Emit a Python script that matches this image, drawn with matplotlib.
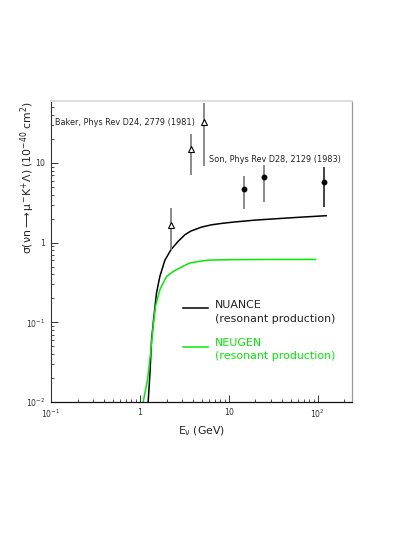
import numpy as np
import matplotlib
matplotlib.use('Agg')
import matplotlib.pyplot as plt
from matplotlib.ticker import FixedLocator, LogLocator, NullFormatter, FuncFormatter

plt.rcParams['font.family'] = ['DejaVu Sans']
plt.rcParams['mathtext.fontset'] = 'custom'
plt.rcParams['mathtext.rm'] = 'DejaVu Sans'
plt.rcParams['mathtext.it'] = 'DejaVu Sans'
plt.rcParams['mathtext.bf'] = 'DejaVu Sans:bold'

# ---- data ----
# NUANCE (resonant production)
nuance_E = [1.24, 1.30, 1.355, 1.44, 1.54, 1.68, 1.91, 2.24, 2.70, 3.22, 3.76, 4.96, 6.5,
            8.5, 11.7, 20, 40, 70, 125]
nuance_xs = [0.010, 0.0232, 0.0607, 0.119, 0.234, 0.378, 0.60, 0.817, 1.04, 1.26, 1.40, 1.57, 1.68,
             1.75, 1.82, 1.92, 2.02, 2.10, 2.18]

# NEUGEN (resonant production)
neugen_E = [1.09, 1.22, 1.32, 1.41, 1.50, 1.68, 2.0, 2.38, 3.16, 3.66, 4.96, 6.15, 11.7,
            30, 60, 95]
neugen_xs = [0.010, 0.0191, 0.0413, 0.089, 0.159, 0.257, 0.378, 0.436, 0.515, 0.556, 0.59, 0.605,
             0.612, 0.615, 0.615, 0.615]

# Baker, Phys Rev D24, 2779 (1981)
baker_E = [2.24, 3.76, 5.27]
baker_xs = [1.68, 15.0, 33.0]
baker_lo = [0.82, 7.1, 9.1]
baker_hi = [2.72, 23.1, 56.0]

# Son, Phys Rev D28, 2129 (1983)
son_E = [14.8, 24.8, 118.0]
son_xs = [4.76, 6.6, 5.83]
son_lo = [2.65, 3.24, 2.8]
son_hi = [6.8, 10.5, 8.9]

x_ticks = [0.1, 1, 10, 100]
x_ticklabels = ['$10^{-1}$', '1', '10', '$10^{2}$']
y_ticks = [0.01, 0.1, 1, 10]
y_ticklabels = ['$10^{-2}$', '$10^{-1}$', '1', '10']


def main():
    fig = plt.figure(figsize=(4.15, 5.37), dpi=100)
    ax = fig.add_axes([51 / 415, 1 - 402 / 537, 301 / 415, 301 / 537])
    ax.set_xscale('log')
    ax.set_yscale('log')
    ax.set_xlim(0.1, 244)
    ax.set_ylim(0.01, 60)

    # --- theory curves ---
    ax.plot(nuance_E, nuance_xs, color='black', lw=1.1, solid_joinstyle='round')
    ax.plot(neugen_E, neugen_xs, color='#00ee00', lw=1.1, solid_joinstyle='round')

    # --- data points ---
    b_err = [np.array(baker_xs) - np.array(baker_lo), np.array(baker_hi) - np.array(baker_xs)]
    ax.errorbar(baker_E, baker_xs, yerr=b_err, fmt='none', ecolor='#777777', elinewidth=1.2, capsize=0)
    ax.plot(baker_E, baker_xs, '^', ms=4, mfc='white', mec='black', mew=0.8, ls='none')

    s_err = [np.array(son_xs) - np.array(son_lo), np.array(son_hi) - np.array(son_xs)]
    ecols = ['#777777', '#777777', '#222222']
    for i in range(len(son_E)):
        ax.errorbar([son_E[i]], [son_xs[i]], yerr=[[s_err[0][i]], [s_err[1][i]]], fmt='none',
                    ecolor=ecols[i], elinewidth=1.2, capsize=0)
    ax.plot(son_E, son_xs, 'o', ms=3.2, color='black', ls='none')

    # --- annotations ---
    ax.text(0.110, 31.8, 'Baker, Phys Rev D24, 2779 (1981)', fontsize=5.9, color='#222222',
            va='center', ha='left', bbox=dict(fc='white', ec='none', pad=0.3))
    ax.text(6.0, 11.0, 'Son, Phys Rev D28, 2129 (1983)', fontsize=5.9, color='#222222',
            va='center', ha='left', bbox=dict(fc='white', ec='none', pad=0.3))

    # --- legend (hand placed) ---
    ax.plot([0.4375, 0.5216], [0.311, 0.311], color='black', lw=1.1, transform=ax.transAxes)
    ax.text(0.545, 0.322, 'NUANCE', fontsize=7.9, color='#222222', transform=ax.transAxes, va='center')
    ax.text(0.545, 0.276, '(resonant production)', fontsize=7.9, color='#222222',
            transform=ax.transAxes, va='center')
    ax.plot([0.4375, 0.5216], [0.184, 0.184], color='#00ee00', lw=1.1, transform=ax.transAxes)
    ax.text(0.545, 0.197, 'NEUGEN', fontsize=7.9, color='#00ee00', transform=ax.transAxes, va='center')
    ax.text(0.545, 0.154, '(resonant production)', fontsize=7.9, color='#00ee00',
            transform=ax.transAxes, va='center')

    # --- axes styling (ROOT look) ---
    ax.xaxis.set_major_locator(FixedLocator(x_ticks))
    ax.xaxis.set_major_formatter(FuncFormatter(lambda v, p: x_ticklabels[x_ticks.index(v)] if v in x_ticks else ''))
    ax.xaxis.set_minor_locator(LogLocator(base=10, subs=np.arange(2, 10)))
    ax.xaxis.set_minor_formatter(NullFormatter())
    ax.yaxis.set_major_locator(FixedLocator(y_ticks))
    ax.yaxis.set_major_formatter(FuncFormatter(lambda v, p: y_ticklabels[y_ticks.index(v)] if v in y_ticks else ''))
    ax.yaxis.set_minor_locator(LogLocator(base=10, subs=np.arange(2, 10)))
    ax.yaxis.set_minor_formatter(NullFormatter())

    ax.tick_params(which='both', direction='in', top=False, right=False, colors='#333333', labelsize=5.6)
    ax.tick_params(which='major', length=5, width=0.7, pad=4)
    ax.tick_params(which='minor', length=2.5, width=0.6)

    ax.spines['bottom'].set_color('#111111')
    ax.spines['left'].set_color('#333333')
    ax.spines['bottom'].set_linewidth(0.9)
    ax.spines['left'].set_linewidth(0.8)
    ax.spines['top'].set_color('#dddddd')
    ax.spines['top'].set_linewidth(1.4)
    ax.spines['right'].set_color('#999999')
    ax.spines['right'].set_linewidth(0.9)

    ax.set_xlabel(r'E$_{\nu}$ (GeV)', fontsize=7.8, color='#222222', labelpad=3)
    ax.set_ylabel(r'$\sigma(\nu n \longrightarrow \mu^{-}K^{+}\Lambda)$ (10$^{-40}$ cm$^{2}$)',
                  fontsize=7.8, color='#222222', loc='top')
    ax.yaxis.set_label_coords(-0.0465, 1.0)

    fig.savefig('out.png', dpi=100)


if __name__ == "__main__":
    main()
